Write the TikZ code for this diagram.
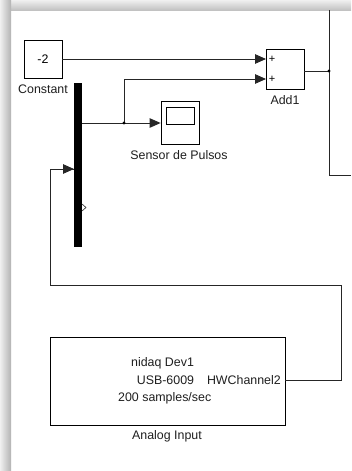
\documentclass[tikz,border=0pt]{standalone}
\usepackage{fontspec}
\setmainfont{Liberation Sans}
\usetikzlibrary{arrows.meta}
\tikzset{
  blk/.style={draw=black, line width=0.8pt, fill=white, inner sep=0pt, font=\fontsize{12.4}{14}\selectfont},
  lbl/.style={inner sep=0pt, text=black!88, font=\fontsize{12.4}{14}\selectfont},
  wire/.style={draw=black!85, line width=0.9pt},
  arr/.style={wire, -{Triangle[length=11pt,width=9.5pt]}},
  jdot/.style={circle, fill=black, inner sep=0pt, minimum size=3.2pt}
}
\begin{document}
\begin{tikzpicture}[x=1pt,y=-1pt]
\useasboundingbox (0,0) rectangle (351,471);
\fill[white] (0,0) rectangle (351,471);
% shadow
\shade[left color=black!6, right color=black!30] (0,0) rectangle (11,471);
\shade[top color=black!6, bottom color=black!24] (11,0) rectangle (351,10);
\shade[left color=black!6, right color=black!30] (0,0) rectangle (11,10);

% blocks
\node[blk, minimum width=38pt, minimum height=38pt] (const) at (43,59) {-2};
\node[lbl] (constlbl) at (43,89) {Constant};

\node[blk, minimum width=38pt, minimum height=40pt] (add) at (285,69) {};
\node[inner sep=0pt, font=\fontsize{11}{12}\selectfont] (p1) at (272,59) {+};
\node[inner sep=0pt, font=\fontsize{11}{12}\selectfont] (p2) at (272,79) {+};
\node[lbl] (addlbl) at (285,100) {Add1};

\node[fill=black, draw=none, inner sep=0pt, minimum width=8pt, minimum height=164pt] (bar) at (78,165) {};

\node[blk, minimum width=38pt, minimum height=43pt] (scope) at (180,123) {};
\node[draw=black, line width=0.8pt, inner sep=0pt, minimum width=28pt, minimum height=17pt] (scr) at (180,115.5) {};
\node[lbl] (scopelbl) at (179,155) {Sensor de Pulsos};

\node[blk, minimum width=235pt, minimum height=88pt] (ai) at (167.5,381) {};
\node[lbl, anchor=west] (t1) at (131,363) {nidaq Dev1};
\node[lbl, anchor=east] (t2) at (281,380) {USB-6009\hspace{13pt}HWChannel2};
\node[lbl, anchor=west] (t3) at (118,398) {200 samples/sec};
\node[lbl] (ailbl) at (167,436) {Analog Input};

% coordinates
\coordinate (in1) at (266,59);
\coordinate (in2) at (266,79);
\coordinate (br) at (124,123);
\coordinate (aout) at (304,71);
\coordinate (vj) at (329,71);
\coordinate (vtop) at (329,10);
\coordinate (vbot) at (329,175);
\coordinate (vend) at (351,175);
\coordinate (barin) at (74,169);
\coordinate (fb1) at (341,380);
\coordinate (fb2) at (341,285);
\coordinate (fb3) at (50,285);
\coordinate (fb4) at (50,169);

% connectors
\draw[arr] (const.east) -- (in1);
\draw[arr] (bar.east |- br) -- (scope.west |- br);
\draw[arr] (br) |- (in2);
\node[jdot] (brdot) at (br) {};
\draw[wire] (aout) -- (vj);
\draw[wire] (vtop) -- (vbot) -- (vend);
\node[jdot] (vjdot) at (vj) {};
\draw[wire] (ai.east |- fb1) -- (fb1) -- (fb2) -- (fb3) -- (fb4) -- ([xshift=-0.5pt]barin);
\draw[arr] (fb4) -- (barin);
% open output port
\draw[black!85, line width=0.6pt] (82,204) -- (86,207.5) -- (82,211);
\end{tikzpicture}
\end{document}
